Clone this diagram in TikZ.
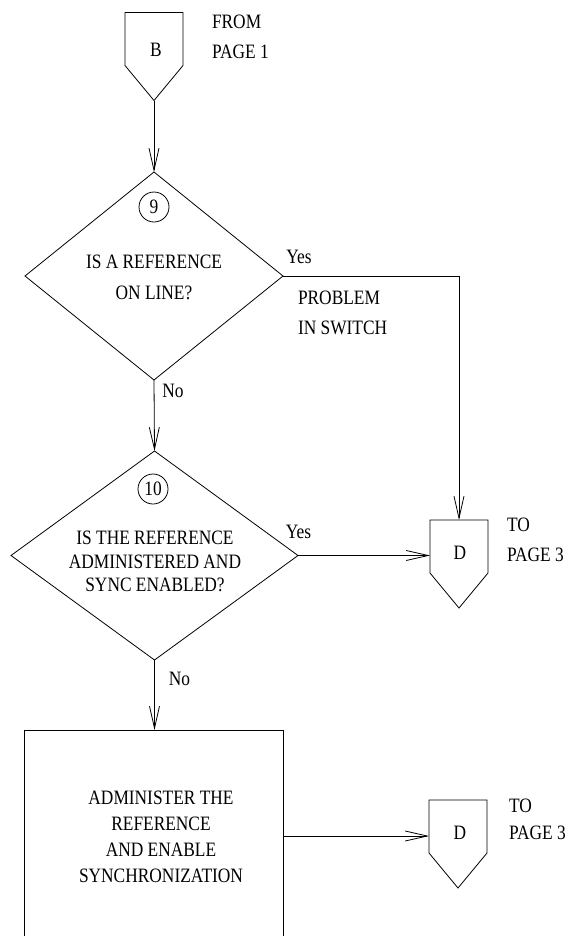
\documentclass[tikz,border=0pt]{standalone}
\usepackage{fontspec}
\setmainfont{Liberation Serif}[FakeStretch=0.85]
\usetikzlibrary{shapes.geometric,arrows.meta}
\begin{document}
\begin{tikzpicture}[x=1bp,y=-1bp,
  line width=0.8bp,
  every node/.style={inner sep=0pt, outer sep=0pt},
  txt/.style={font=\fontsize{20.5}{#1}\selectfont, align=center},
  txt/.default={30},
  ltxt/.style={font=\fontsize{20.5}{#1}\selectfont, align=left, anchor=west},
  ltxt/.default={30},
  decision/.style={diamond, draw, minimum width=#1},
  offpage/.style={minimum width=58bp, minimum height=88bp},
  numcirc/.style={circle, draw, minimum size=30bp, font=\fontsize{20.5}{24}\selectfont},
  procbox/.style={draw, minimum width=259bp, minimum height=240bp},
  flow/.style={-{Straight Barb[length=22bp,width=10bp]}}
]
\useasboundingbox (0,0) rectangle (567,936);
\clip (0,0) rectangle (567,936);

% off-page connector B
\node[offpage] (B) at (154,56.5) {};
\draw (B.north west) -- (B.north east) -- ([yshift=35bp]B.south east) -- (B.south) -- ([yshift=35bp]B.south west) -- cycle;
\node[txt] (Bl) at (156,50) {B};
\node[ltxt] (from) at (212,37) {FROM\\PAGE 1};

% decision 9
\node[decision=258bp, minimum height=208bp] (Q9) at (154,276) {};
\node[numcirc] (c9) at (154,207) {9};
\node[txt=31] (t9) at (154,277.5) {IS A REFERENCE\\ON LINE?};

% decision 10
\node[decision=287bp, minimum height=209bp] (Q10) at (154.5,555.5) {};
\node[numcirc] (c10) at (153,489) {10};
\node[txt=23.5] (t10) at (155,561.5) {IS THE REFERENCE\\ADMINISTERED AND\\SYNC ENABLED?};

% off-page connector D (upper)
\node[offpage] (D1) at (459,564) {};
\draw (D1.north west) -- (D1.north east) -- ([yshift=35bp]D1.south east) -- (D1.south) -- ([yshift=35bp]D1.south west) -- cycle;
\node[txt] (D1l) at (460,553) {D};
\node[ltxt] (to1) at (507,540) {TO\\PAGE 3};

% process box
\node[procbox] (R) at (153.5,850) {};
\node[txt=26.3] (tR) at (161,836.75) {ADMINISTER THE\\REFERENCE\\AND ENABLE\\SYNCHRONIZATION};

% off-page connector D (lower)
\node[offpage] (D2) at (458,844) {};
\draw (D2.north west) -- (D2.north east) -- ([yshift=35bp]D2.south east) -- (D2.south) -- ([yshift=35bp]D2.south west) -- cycle;
\node[txt] (D2l) at (460,833) {D};
\node[ltxt=27] (to2) at (509,819.5) {TO\\PAGE 3};

% labels
\node[txt] (yes9) at (299,257) {Yes};
\node[ltxt] (prob) at (298,313) {PROBLEM\\IN SWITCH};
\node[txt] (no9) at (173,391) {No};
\node[txt] (yes10) at (298.5,532) {Yes};
\node[txt] (no10) at (179.5,679) {No};

% connectors
\coordinate (m2) at (0,836);
\draw[flow] (B.south) -- (Q9.north);
\draw[flow] (Q9.south) -- (Q10.north);
\draw[flow] (Q9.east) -| (D1.north);
\draw[flow] (Q10.east) -- (Q10.east -| D1.west);
\draw[flow] (Q10.south) -- (Q10.south |- R.north);
\draw[flow] (R.east |- m2) -- (D2.west |- m2);
\end{tikzpicture}
\end{document}
